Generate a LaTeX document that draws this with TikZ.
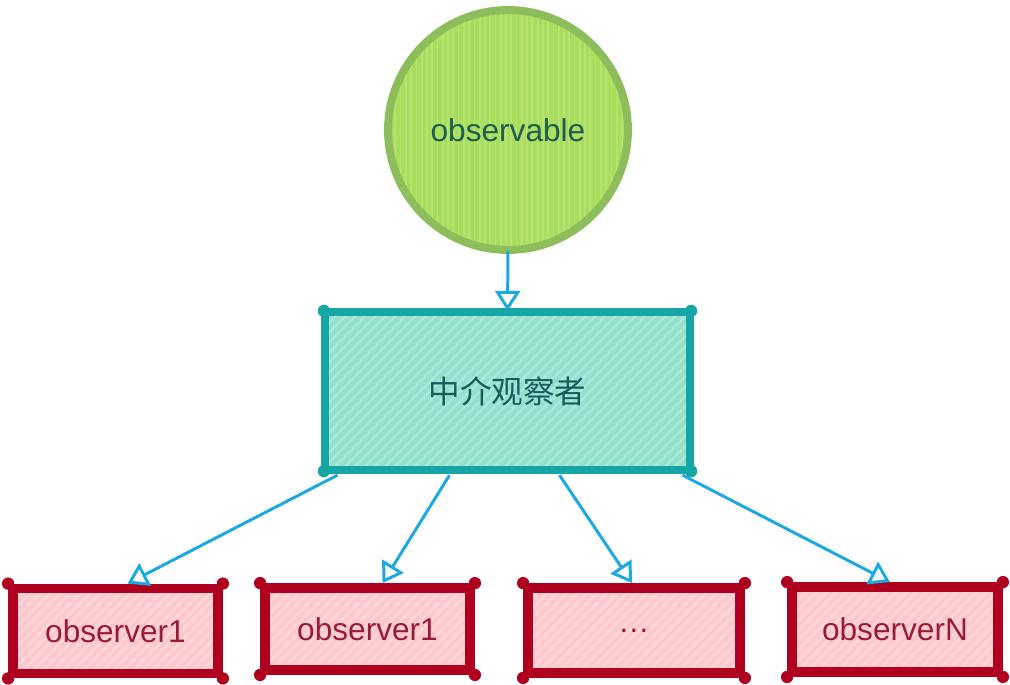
\documentclass[tikz,border=0pt]{standalone}
\usepackage{fontspec}
\setmainfont{Liberation Sans}
\newfontfamily\cjk{Noto Sans CJK SC}
\usetikzlibrary{arrows.meta,calc,patterns.meta}

\definecolor{subjfill}{HTML}{A9DD5C}
\definecolor{subjline}{HTML}{8DBE5B}
\definecolor{subjtext}{HTML}{1F5E4E}
\definecolor{medfill}{HTML}{93E2CF}
\definecolor{medline}{HTML}{16A6A6}
\definecolor{medtext}{HTML}{1A5C5C}
\definecolor{obsfill}{HTML}{FFC8CB}
\definecolor{obsline}{HTML}{B0001F}
\definecolor{obstext}{HTML}{991B3A}
\definecolor{linkblue}{HTML}{1CA9E2}

\begin{document}
\begin{tikzpicture}[x=0.02cm,y=-0.02cm]
      %styles for the sketchy shapes
      \tikzset{
      subject/.style={circle, draw=subjline, line width=4.5pt,
        preaction={fill=subjfill},
        pattern={Lines[angle=90,distance=3pt,line width=1pt]},
        pattern color=subjfill!85!white,
        minimum size=4.8cm, text=subjtext,
        font=\fontsize{18}{22}\selectfont},
      mediator/.style={rectangle, draw=medline, line width=4.6pt,
        preaction={fill=medfill},
        pattern={Lines[angle=45,distance=4pt,line width=1.3pt]},
        pattern color=medfill!75!white,
        minimum width=7.3cm, minimum height=3.16cm, text=medtext,
        font=\fontsize{18}{22}\selectfont\cjk},
      watcher/.style={rectangle, draw=obsline, line width=5.6pt,
        preaction={fill=obsfill},
        pattern={Lines[angle=45,distance=4pt,line width=1.3pt]},
        pattern color=obsfill!70!white,
        minimum width=4.1cm, minimum height=1.7cm, text=obstext,
        font=\fontsize{18}{22}\selectfont},
      link/.style={draw=linkblue, line width=1.7pt,
        -{Triangle[open, length=0.4cm, width=0.5cm, line width=1.7pt]}},
      }
      \useasboundingbox (0,0) rectangle (1010,684);

      %observable
      \node[subject] (obs) at (508,130) {observable};

      %mediator
      \node[mediator] (med) at (507.5,391) {中介观察者};

      %observers
      \node[watcher] (o1) at (115.5,631) {observer1};
      \node[watcher, minimum height=1.64cm] (o2) at (367.5,629) {observer1};
      \node[watcher, minimum width=4.24cm] (o3) at (634,630.5) {\dots};
      \node[watcher, minimum width=4.12cm] (oN) at (895,629.5) {observerN};

      %corner dots
      \foreach \n/\c in {med/medline, o1/obsline, o2/obsline, o3/obsline, oN/obsline}
        \foreach \k in {north west, north east, south west, south east}
          \fill[\c] (\n.\k) circle (3.5pt);

      %arrows
      \draw[link] (obs.south) -- (med.north);
      \draw[link] ($(med.south)+(-170,4)$) -- ($(o1.north)+(12,0)$);
      \draw[link] ($(med.south)+(-58,4)$) -- ($(o2.north)+(15,0)$);
      \draw[link] ($(med.south)+(52,4)$) -- ($(o3.north)+(-2,0)$);
      \draw[link] ($(med.south)+(175,4)$) -- ($(oN.north)+(-5,0)$);
\end{tikzpicture}
\end{document}
